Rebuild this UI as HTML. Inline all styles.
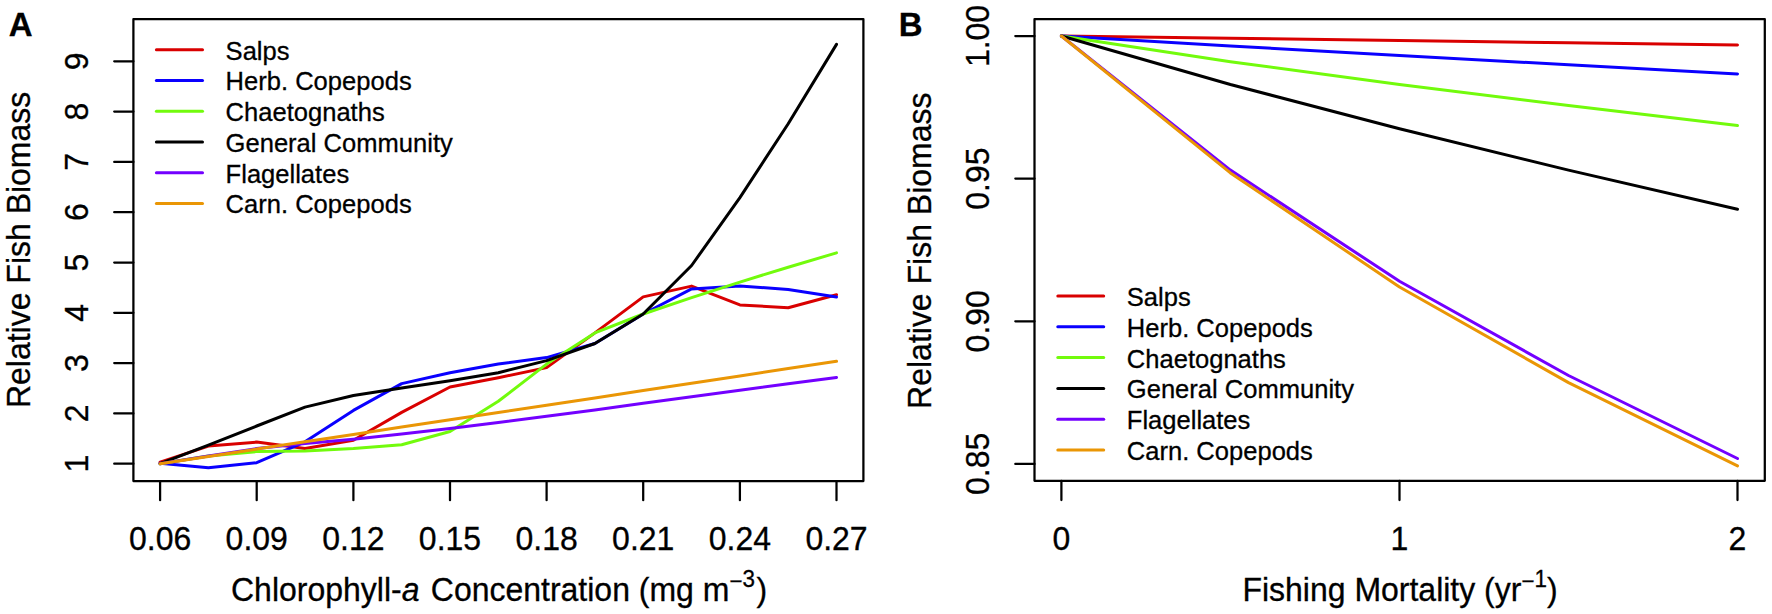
<!DOCTYPE html>
<html><head><meta charset="utf-8"><title>Relative Fish Biomass</title>
<style>
html,body{margin:0;padding:0;background:#fff;}
body{width:1772px;height:614px;overflow:hidden;}
svg{display:block;}
text{font-family:"Liberation Sans",Arial,Helvetica,sans-serif;fill:#000;stroke:#000;stroke-width:0.3px;}
.t{font-size:32px;}
.l{font-size:25.55px;}
.b{font-size:33px;font-weight:bold;stroke-width:0.3px;}
.ax{stroke:#000;stroke-width:2.25;fill:none;stroke-linecap:round;stroke-linejoin:round;}
</style></head><body>
<svg width="1772" height="614" viewBox="0 0 1772 614">
<rect width="1772" height="614" fill="#fff"/>

<g id="panelA">
<polyline points="160.1,462.2 208.4,446.1 256.7,442.1 305.0,448.6 353.4,440.3 401.7,412.4 450.0,387.0 498.3,377.7 546.6,367.6 594.9,332.9 643.2,296.9 691.6,286.1 739.9,304.9 788.2,307.8 836.5,294.7" fill="none" stroke="#d90000" stroke-width="3.0" stroke-linecap="round" stroke-linejoin="round"/>
<polyline points="160.1,463.2 208.4,467.7 256.7,462.7 305.0,441.8 353.4,410.4 401.7,383.6 450.0,372.7 498.3,364.1 546.6,357.6 594.9,343.5 643.2,314.0 691.6,288.9 739.9,285.9 788.2,289.4 836.5,296.9" fill="none" stroke="#0a00ff" stroke-width="3.0" stroke-linecap="round" stroke-linejoin="round"/>
<polyline points="160.1,463.7 208.4,455.9 256.7,451.6 305.0,451.1 353.4,448.6 401.7,444.7 450.0,431.5 498.3,401.3 546.6,364.1 594.9,332.9 643.2,314.0 691.6,297.7 739.9,282.1 788.2,267.2 836.5,252.9" fill="none" stroke="#72fb0c" stroke-width="3.0" stroke-linecap="round" stroke-linejoin="round"/>
<polyline points="160.1,463.7 208.4,445.1 256.7,426.0 305.0,407.1 353.4,395.5 401.7,388.0 450.0,380.7 498.3,372.7 546.6,360.6 594.9,343.5 643.2,314.0 691.6,265.5 739.9,197.6 788.2,123.7 836.5,44.4" fill="none" stroke="#000000" stroke-width="3.0" stroke-linecap="round" stroke-linejoin="round"/>
<polyline points="160.1,463.7 208.4,455.9 256.7,448.6 305.0,443.6 353.4,439.3 401.7,434.0 450.0,428.5 498.3,422.5 546.6,416.2 594.9,409.9 643.2,403.3 691.6,396.8 739.9,390.3 788.2,383.8 836.5,377.4" fill="none" stroke="#7300ff" stroke-width="3.0" stroke-linecap="round" stroke-linejoin="round"/>
<polyline points="160.1,463.7 208.4,456.4 256.7,449.1 305.0,441.8 353.4,434.4 401.7,427.1 450.0,419.8 498.3,412.5 546.6,405.2 594.9,397.9 643.2,390.5 691.6,383.2 739.9,375.9 788.2,368.6 836.5,361.3" fill="none" stroke="#ea9605" stroke-width="3.0" stroke-linecap="round" stroke-linejoin="round"/>
<rect class="ax" x="133.4" y="19" width="730" height="462"/>
<line class="ax" x1="160.1" y1="481" x2="160.1" y2="500.2"/>
<text class="t" transform="translate(160.10 550.20) scale(1 1.035)" text-anchor="middle">0.06</text>
<line class="ax" x1="256.7" y1="481" x2="256.7" y2="500.2"/>
<text class="t" transform="translate(256.73 550.20) scale(1 1.035)" text-anchor="middle">0.09</text>
<line class="ax" x1="353.4" y1="481" x2="353.4" y2="500.2"/>
<text class="t" transform="translate(353.36 550.20) scale(1 1.035)" text-anchor="middle">0.12</text>
<line class="ax" x1="450.0" y1="481" x2="450.0" y2="500.2"/>
<text class="t" transform="translate(449.98 550.20) scale(1 1.035)" text-anchor="middle">0.15</text>
<line class="ax" x1="546.6" y1="481" x2="546.6" y2="500.2"/>
<text class="t" transform="translate(546.61 550.20) scale(1 1.035)" text-anchor="middle">0.18</text>
<line class="ax" x1="643.2" y1="481" x2="643.2" y2="500.2"/>
<text class="t" transform="translate(643.24 550.20) scale(1 1.035)" text-anchor="middle">0.21</text>
<line class="ax" x1="739.9" y1="481" x2="739.9" y2="500.2"/>
<text class="t" transform="translate(739.87 550.20) scale(1 1.035)" text-anchor="middle">0.24</text>
<line class="ax" x1="836.5" y1="481" x2="836.5" y2="500.2"/>
<text class="t" transform="translate(836.50 550.20) scale(1 1.035)" text-anchor="middle">0.27</text>
<line class="ax" x1="114.2" y1="463.7" x2="133.4" y2="463.7"/>
<text class="t" transform="translate(88.00 463.70) rotate(-90) scale(1 1.035)" text-anchor="middle">1</text>
<line class="ax" x1="114.2" y1="413.4" x2="133.4" y2="413.4"/>
<text class="t" transform="translate(88.00 413.40) rotate(-90) scale(1 1.035)" text-anchor="middle">2</text>
<line class="ax" x1="114.2" y1="363.1" x2="133.4" y2="363.1"/>
<text class="t" transform="translate(88.00 363.10) rotate(-90) scale(1 1.035)" text-anchor="middle">3</text>
<line class="ax" x1="114.2" y1="312.8" x2="133.4" y2="312.8"/>
<text class="t" transform="translate(88.00 312.80) rotate(-90) scale(1 1.035)" text-anchor="middle">4</text>
<line class="ax" x1="114.2" y1="262.5" x2="133.4" y2="262.5"/>
<text class="t" transform="translate(88.00 262.50) rotate(-90) scale(1 1.035)" text-anchor="middle">5</text>
<line class="ax" x1="114.2" y1="212.2" x2="133.4" y2="212.2"/>
<text class="t" transform="translate(88.00 212.20) rotate(-90) scale(1 1.035)" text-anchor="middle">6</text>
<line class="ax" x1="114.2" y1="161.9" x2="133.4" y2="161.9"/>
<text class="t" transform="translate(88.00 161.90) rotate(-90) scale(1 1.035)" text-anchor="middle">7</text>
<line class="ax" x1="114.2" y1="111.6" x2="133.4" y2="111.6"/>
<text class="t" transform="translate(88.00 111.60) rotate(-90) scale(1 1.035)" text-anchor="middle">8</text>
<line class="ax" x1="114.2" y1="61.3" x2="133.4" y2="61.3"/>
<text class="t" transform="translate(88.00 61.30) rotate(-90) scale(1 1.035)" text-anchor="middle">9</text>
<text class="t" transform="translate(30.30 249.90) rotate(-90) scale(1 1.035)" text-anchor="middle">Relative Fish Biomass</text>
<text class="t" transform="translate(231.00 601.00) scale(1 1.035)">Chlorophyll-<tspan font-style="italic">a</tspan><tspan dx="2.5"> Concentration (mg m</tspan><tspan font-size="22.4" dy="-11.3">−</tspan><tspan font-size="22.4" dy="-2.5">3</tspan><tspan dy="13.8" dx="1.6">)</tspan></text>
<text class="b" transform="translate(8.70 35.90) scale(1 1.035)">A</text>
<line x1="156.4" y1="49.65" x2="202.5" y2="49.65" stroke="#d90000" stroke-width="3.0" stroke-linecap="round"/>
<text class="l" transform="translate(225.60 59.55) scale(1 1.035)">Salps</text>
<line x1="156.4" y1="80.41" x2="202.5" y2="80.41" stroke="#0a00ff" stroke-width="3.0" stroke-linecap="round"/>
<text class="l" transform="translate(225.60 90.31) scale(1 1.035)">Herb. Copepods</text>
<line x1="156.4" y1="111.17" x2="202.5" y2="111.17" stroke="#72fb0c" stroke-width="3.0" stroke-linecap="round"/>
<text class="l" transform="translate(225.60 121.07) scale(1 1.035)">Chaetognaths</text>
<line x1="156.4" y1="141.93" x2="202.5" y2="141.93" stroke="#000000" stroke-width="3.0" stroke-linecap="round"/>
<text class="l" transform="translate(225.60 151.83) scale(1 1.035)">General Community</text>
<line x1="156.4" y1="172.69" x2="202.5" y2="172.69" stroke="#7300ff" stroke-width="3.0" stroke-linecap="round"/>
<text class="l" transform="translate(225.60 182.59) scale(1 1.035)">Flagellates</text>
<line x1="156.4" y1="203.45" x2="202.5" y2="203.45" stroke="#ea9605" stroke-width="3.0" stroke-linecap="round"/>
<text class="l" transform="translate(225.60 213.35) scale(1 1.035)">Carn. Copepods</text>
</g>
<g id="panelB">
<polyline points="1061.4,36.0 1230.4,38.3 1399.5,40.6 1568.5,42.8 1737.5,45.0" fill="none" stroke="#d90000" stroke-width="3.0" stroke-linecap="round" stroke-linejoin="round"/>
<polyline points="1061.4,36.0 1230.4,46.0 1399.5,55.4 1568.5,64.8 1737.5,73.9" fill="none" stroke="#0a00ff" stroke-width="3.0" stroke-linecap="round" stroke-linejoin="round"/>
<polyline points="1061.4,36.0 1230.4,61.7 1399.5,84.5 1568.5,105.6 1737.5,125.6" fill="none" stroke="#72fb0c" stroke-width="3.0" stroke-linecap="round" stroke-linejoin="round"/>
<polyline points="1061.4,36.0 1230.4,84.5 1399.5,128.7 1568.5,170.1 1737.5,209.2" fill="none" stroke="#000000" stroke-width="3.0" stroke-linecap="round" stroke-linejoin="round"/>
<polyline points="1061.4,36.0 1230.4,170.1 1399.5,281.3 1568.5,375.5 1737.5,458.5" fill="none" stroke="#7300ff" stroke-width="3.0" stroke-linecap="round" stroke-linejoin="round"/>
<polyline points="1061.4,36.0 1230.4,172.9 1399.5,287.0 1568.5,382.6 1737.5,465.9" fill="none" stroke="#ea9605" stroke-width="3.0" stroke-linecap="round" stroke-linejoin="round"/>
<rect class="ax" x="1034.5" y="19" width="730.3" height="461.8"/>
<line class="ax" x1="1061.4" y1="480.8" x2="1061.4" y2="500"/>
<text class="t" transform="translate(1061.40 549.70) scale(1 1.035)" text-anchor="middle">0</text>
<line class="ax" x1="1399.5" y1="480.8" x2="1399.5" y2="500"/>
<text class="t" transform="translate(1399.45 549.70) scale(1 1.035)" text-anchor="middle">1</text>
<line class="ax" x1="1737.5" y1="480.8" x2="1737.5" y2="500"/>
<text class="t" transform="translate(1737.50 549.70) scale(1 1.035)" text-anchor="middle">2</text>
<line class="ax" x1="1015.3" y1="463.9" x2="1034.5" y2="463.9"/>
<text class="t" transform="translate(989.00 463.91) rotate(-90) scale(1 1.035)" text-anchor="middle">0.85</text>
<line class="ax" x1="1015.3" y1="321.3" x2="1034.5" y2="321.3"/>
<text class="t" transform="translate(989.00 321.27) rotate(-90) scale(1 1.035)" text-anchor="middle">0.90</text>
<line class="ax" x1="1015.3" y1="178.6" x2="1034.5" y2="178.6"/>
<text class="t" transform="translate(989.00 178.64) rotate(-90) scale(1 1.035)" text-anchor="middle">0.95</text>
<line class="ax" x1="1015.3" y1="36.0" x2="1034.5" y2="36.0"/>
<text class="t" transform="translate(989.00 36.00) rotate(-90) scale(1 1.035)" text-anchor="middle">1.00</text>
<text class="t" transform="translate(931.00 250.70) rotate(-90) scale(1 1.035)" text-anchor="middle">Relative Fish Biomass</text>
<text class="t" transform="translate(1242.40 600.80) scale(1 1.035)">Fishing Mortality (yr<tspan font-size="22.4" dy="-11.3">−</tspan><tspan font-size="22.4" dy="-2.5">1</tspan><tspan dy="13.8">)</tspan></text>
<text class="b" transform="translate(898.70 35.90) scale(1 1.035)">B</text>
<line x1="1057.8" y1="296.10" x2="1103.7" y2="296.10" stroke="#d90000" stroke-width="3.0" stroke-linecap="round"/>
<text class="l" transform="translate(1126.80 306.00) scale(1 1.035)">Salps</text>
<line x1="1057.8" y1="326.86" x2="1103.7" y2="326.86" stroke="#0a00ff" stroke-width="3.0" stroke-linecap="round"/>
<text class="l" transform="translate(1126.80 336.76) scale(1 1.035)">Herb. Copepods</text>
<line x1="1057.8" y1="357.62" x2="1103.7" y2="357.62" stroke="#72fb0c" stroke-width="3.0" stroke-linecap="round"/>
<text class="l" transform="translate(1126.80 367.52) scale(1 1.035)">Chaetognaths</text>
<line x1="1057.8" y1="388.38" x2="1103.7" y2="388.38" stroke="#000000" stroke-width="3.0" stroke-linecap="round"/>
<text class="l" transform="translate(1126.80 398.28) scale(1 1.035)">General Community</text>
<line x1="1057.8" y1="419.14" x2="1103.7" y2="419.14" stroke="#7300ff" stroke-width="3.0" stroke-linecap="round"/>
<text class="l" transform="translate(1126.80 429.04) scale(1 1.035)">Flagellates</text>
<line x1="1057.8" y1="449.90" x2="1103.7" y2="449.90" stroke="#ea9605" stroke-width="3.0" stroke-linecap="round"/>
<text class="l" transform="translate(1126.80 459.80) scale(1 1.035)">Carn. Copepods</text>
</g>
</svg></body></html>
